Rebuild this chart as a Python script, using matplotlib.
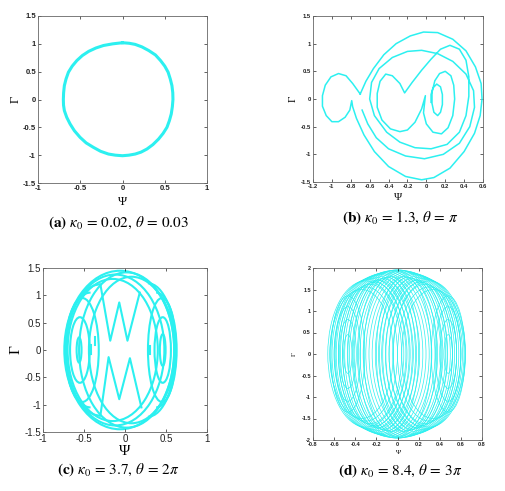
import matplotlib
matplotlib.use('Agg')
import matplotlib.pyplot as plt
from matplotlib.patches import Ellipse, Arc

plt.rcParams['mathtext.fontset'] = 'stix'

# (a) kappa0 = 0.02, theta = 0.03 : single closed orbit (traced)
psi_a = [0.0, 0.08, 0.15, 0.23, 0.31, 0.39, 0.45, 0.50, 0.54, 0.565, 0.585, 0.595, 0.597,
         0.59, 0.577, 0.555, 0.526, 0.48, 0.427, 0.36, 0.289, 0.22, 0.15, 0.075,
         0.0, -0.085, -0.166, -0.26, -0.344, -0.43, -0.502, -0.57, -0.62, -0.66, -0.688,
         -0.698, -0.70, -0.697, -0.688, -0.668, -0.64, -0.595, -0.54, -0.475, -0.40,
         -0.315, -0.225, -0.115, 0.0]
gam_a = [1.02, 1.01, 0.99, 0.945, 0.88, 0.80, 0.70, 0.60, 0.49, 0.37, 0.25, 0.12, 0.0,
         -0.13, -0.26, -0.38, -0.50, -0.61, -0.71, -0.81, -0.89, -0.945, -0.98, -1.0,
         -1.01, -1.0, -0.98, -0.93, -0.86, -0.78, -0.68, -0.56, -0.44, -0.32, -0.20,
         -0.10, 0.0, 0.12, 0.25, 0.37, 0.49, 0.60, 0.70, 0.79, 0.865, 0.925, 0.97, 1.0,
         1.02]

# (b) kappa0 = 1.3, theta = pi : outer orbit with left loop, and inner spiral (traced)
psi_b_outer = [-0.70, -0.64, -0.56, -0.45, -0.32, -0.17, -0.03, 0.12, 0.28, 0.42, 0.52,
               0.58, 0.59, 0.57, 0.51, 0.40, 0.25, 0.08, -0.05, -0.22, -0.40, -0.55,
               -0.66, -0.74, -0.78, -0.79, -0.81, -0.86, -0.93, -1.00, -1.06, -1.10,
               -1.10, -1.07, -1.01, -0.93, -0.85, -0.78, -0.70]
gam_b_outer = [0.09, 0.32, 0.55, 0.80, 1.00, 1.14, 1.21, 1.20, 1.08, 0.87, 0.58, 0.28,
               0.0, -0.30, -0.62, -0.95, -1.25, -1.42, -1.46, -1.40, -1.22, -0.95,
               -0.65, -0.35, -0.14, -0.03, -0.20, -0.33, -0.41, -0.41, -0.30, -0.13,
               0.06, 0.25, 0.40, 0.46, 0.42, 0.28, 0.09]
psi_b_inner = [0.05, 0.05, 0.07, 0.11, 0.15, 0.17, 0.17, 0.15, 0.12, 0.08, 0.06, 0.06,
               0.09, 0.14, 0.20, 0.26, 0.29, 0.30, 0.28, 0.23, 0.16, 0.07, 0.0, -0.03,
               -0.01, -0.05, -0.12, -0.20, -0.28, -0.38, -0.47, -0.52, -0.52, -0.49,
               -0.43, -0.36, -0.28, -0.23, -0.15, -0.05, 0.05, 0.15, 0.25, 0.35, 0.42,
               0.45, 0.45, 0.42, 0.35, 0.22, 0.05, -0.12, -0.28, -0.42, -0.55, -0.60,
               -0.58, -0.50, -0.36, -0.20, -0.05, 0.12, 0.28, 0.42, 0.50, 0.51, 0.46,
               0.35, 0.18, -0.02, -0.22, -0.40, -0.53, -0.62, -0.68]
gam_b_inner = [-0.06, 0.08, 0.20, 0.27, 0.22, 0.08, -0.10, -0.24, -0.30, -0.24, -0.08,
               0.12, 0.33, 0.46, 0.50, 0.42, 0.25, 0.0, -0.30, -0.52, -0.63, -0.60,
               -0.45, -0.25, 0.06, -0.18, -0.42, -0.56, -0.59, -0.54, -0.38, -0.15,
               0.10, 0.32, 0.45, 0.42, 0.28, 0.11, 0.30, 0.52, 0.72, 0.90, 0.97, 0.90,
               0.70, 0.40, 0.05, -0.30, -0.60, -0.82, -0.90, -0.88, -0.78, -0.60, -0.30,
               0.0, 0.30, 0.55, 0.75, 0.86, 0.88, 0.82, 0.68, 0.45, 0.15, -0.15, -0.50,
               -0.80, -1.00, -1.08, -1.03, -0.90, -0.70, -0.45, -0.20]

# (c) kappa0 = 3.7, theta = 2*pi : closed loops (centre, half width, half height)
xc_c = [-0.06, -0.12, 0.02, -0.15, 0.08, -0.52, -0.55, -0.56, 0.45, 0.46, 0.46]
rx_c = [0.68, 0.60, 0.58, 0.55, 0.52, 0.20, 0.12, 0.03, 0.17, 0.10, 0.035]
ry_c = [1.45, 1.38, 1.42, 1.30, 1.34, 0.95, 0.60, 0.23, 0.95, 0.60, 0.29]
# (c) half loops on the sides (centre, half width, half height, start angle, end angle)
xh_c = [-0.30, -0.42, 0.28, 0.38]
rxh_c = [0.42, 0.31, 0.34, 0.25]
ryh_c = [1.20, 1.05, 1.22, 1.05]
t1_c = [90, 90, -90, -90]
t2_c = [270, 270, 90, 90]
# inner zig-zag strokes of (c)
psi_c_top = [-0.30, -0.18, -0.07, 0.03, 0.18]
gam_c_top = [1.20, 0.17, 0.87, 0.17, 1.05]
psi_c_bot = [-0.30, -0.20, -0.07, 0.06, 0.20]
gam_c_bot = [-1.20, -0.13, -0.90, -0.15, -1.05]
psi_c_seg = [[-0.42, -0.42], [0.31, 0.31], [-0.36, -0.36]]
gam_c_seg = [[-0.08, 0.10], [-0.08, 0.08], [0.10, 0.24]]

# (d) kappa0 = 8.4, theta = 3*pi : wide loops (centre, half width, half height)
xc_d = [-0.30, -0.275, -0.25, -0.225, -0.20, -0.175, -0.15, -0.125, -0.10, -0.075,
        -0.05, -0.025, 0.0, 0.025, 0.05, 0.075, 0.10, 0.125, 0.15, 0.175, 0.20, 0.225,
        0.25, 0.275, 0.30]
rx_d = [0.36, 0.365, 0.37, 0.375, 0.38, 0.385, 0.39, 0.395, 0.40, 0.40, 0.405, 0.405,
        0.41, 0.405, 0.405, 0.40, 0.40, 0.395, 0.39, 0.385, 0.38, 0.375, 0.365, 0.355,
        0.345]
ry_d = [1.70, 1.73, 1.76, 1.79, 1.82, 1.85, 1.87, 1.89, 1.91, 1.93, 1.94, 1.95, 1.96,
        1.95, 1.94, 1.93, 1.91, 1.89, 1.87, 1.85, 1.82, 1.79, 1.76, 1.73, 1.70]
# (d) narrower loops filling the middle
xm_d = [-0.34, -0.30, -0.26, -0.22, -0.18, -0.14, -0.10, -0.06, 0.06, 0.10, 0.14, 0.18,
        0.22, 0.26, 0.30, 0.34]
rxm_d = [0.30, 0.30, 0.30, 0.30, 0.29, 0.28, 0.27, 0.26, 0.26, 0.27, 0.28, 0.29, 0.30,
         0.30, 0.30, 0.30]
rym_d = [1.50, 1.56, 1.62, 1.67, 1.71, 1.75, 1.78, 1.80, 1.80, 1.78, 1.75, 1.71, 1.67,
         1.62, 1.56, 1.50]
# (d) nested loops around the two side centres
xs_d = [-0.47, -0.47, -0.47, -0.47, 0.48, 0.48, 0.48, 0.48]
rxs_d = [0.04, 0.08, 0.12, 0.16, 0.04, 0.08, 0.12, 0.16]
rys_d = [0.45, 0.80, 1.10, 1.35, 0.45, 0.80, 1.10, 1.35]

captions = [r'$\mathbf{(a)}\ \kappa_0\, =\, 0.02,\, \theta\, =\, 0.03$',
            r'$\mathbf{(b)}\ \kappa_0\, =\, 1.3,\, \theta\, =\, \pi$',
            r'$\mathbf{(c)}\ \kappa_0\, =\, 3.7,\, \theta\, =\, 2\pi$',
            r'$\mathbf{(d)}\ \kappa_0\, =\, 8.4,\, \theta\, =\, 3\pi$']

col = '#2cf0f0'
W, H = 506, 491
fig = plt.figure(figsize=(W / 100, H / 100), dpi=100)


def make_ax(x0, y0, x1, y1):
    return fig.add_axes([x0 / W, 1 - y1 / H, (x1 - x0) / W, (y1 - y0) / H])


def style(ax, xlim, ylim, xticks, yticks, fs, lab_fs, xpad, ypad, weight='bold'):
    ax.set_xlim(xlim)
    ax.set_ylim(ylim)
    ax.set_xticks(xticks)
    ax.set_yticks(yticks)
    ax.set_xticklabels([f'{v:g}' for v in xticks], fontsize=fs, fontweight=weight,
                       family='Liberation Sans')
    ax.set_yticklabels([f'{v:g}' for v in yticks], fontsize=fs, fontweight=weight,
                       family='Liberation Sans')
    ax.tick_params(direction='in', length=2.5, width=0.5, top=True, right=True,
                   pad=1.5, colors='#222222')
    for s in ax.spines.values():
        s.set_linewidth(0.6)
        s.set_color('#666666')
    ax.set_xlabel('Ψ', fontsize=lab_fs, family='Liberation Serif', labelpad=xpad)
    ax.set_ylabel('Γ', fontsize=lab_fs, family='Liberation Serif', labelpad=ypad)


# (a)
ax = make_ax(38, 16, 207, 183)
ax.plot(psi_a, gam_a, color=col, lw=2.2, solid_joinstyle='round')
style(ax, (-1, 1), (-1.5, 1.5), [-1, -0.5, 0, 0.5, 1], [-1.5, -1, -0.5, 0, 0.5, 1, 1.5],
      5.5, 9, 3, 1)

# (b)
ax = make_ax(313, 16, 483, 182)
ax.plot(psi_b_outer, gam_b_outer, color=col, lw=1.1, solid_joinstyle='round')
ax.plot(psi_b_inner, gam_b_inner, color=col, lw=1.1, solid_joinstyle='round')
style(ax, (-1.2, 0.6), (-1.5, 1.5), [-1.2, -1, -0.8, -0.6, -0.4, -0.2, 0, 0.2, 0.4, 0.6],
      [-1.5, -1, -0.5, 0, 0.5, 1, 1.5], 4.2, 8, 3, 2)

# (c)
ax = make_ax(43, 268, 207, 432)
for x, rx, ry in zip(xc_c, rx_c, ry_c):
    ax.add_patch(Ellipse((x, 0), 2 * rx, 2 * ry, fill=False, ec=col, lw=1.5))
for x, rx, ry, a1, a2 in zip(xh_c, rxh_c, ryh_c, t1_c, t2_c):
    ax.add_patch(Arc((x, 0), 2 * rx, 2 * ry, theta1=a1, theta2=a2, ec=col, lw=1.5))
ax.plot(psi_c_top, gam_c_top, color=col, lw=1.5)
ax.plot(psi_c_bot, gam_c_bot, color=col, lw=1.5)
for px, gy in zip(psi_c_seg, gam_c_seg):
    ax.plot(px, gy, color=col, lw=1.5)
style(ax, (-1, 1), (-1.5, 1.5), [-1, -0.5, 0, 0.5, 1], [-1.5, -1, -0.5, 0, 0.5, 1, 1.5],
      7, 11, 0.5, 1, weight='normal')

# (d)
ax = make_ax(313, 268, 482, 440)
for xs, rxs, rys in [(xc_d, rx_d, ry_d), (xm_d, rxm_d, rym_d), (xs_d, rxs_d, rys_d)]:
    for x, rx, ry in zip(xs, rxs, rys):
        ax.add_patch(Ellipse((x, 0), 2 * rx, 2 * ry, fill=False, ec=col, lw=0.5))
style(ax, (-0.8, 0.8), (-2, 2), [-0.8, -0.6, -0.4, -0.2, 0, 0.2, 0.4, 0.6, 0.8],
      [-2, -1.5, -1, -0.5, 0, 0.5, 1, 1.5, 2], 4, 5, 2, 3)

# captions
for (cx, cy), txt in zip([(118, 223), (400, 218), (118, 470), (400, 471)], captions):
    fig.text(cx / W, 1 - cy / H, txt, ha='center', va='center', fontsize=11)

fig.savefig('out.png', dpi=100)
